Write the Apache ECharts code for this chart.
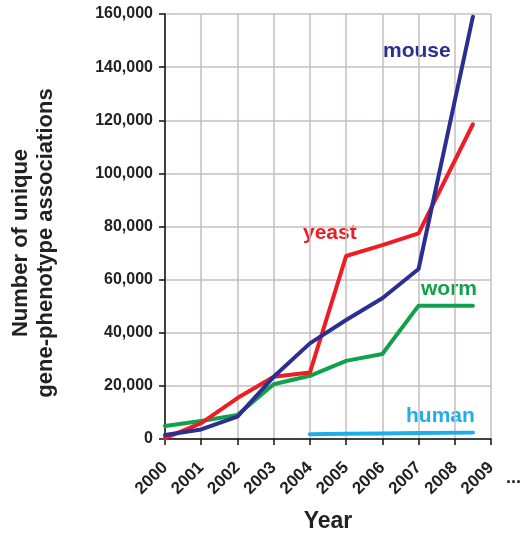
<!DOCTYPE html>
<html>
<head>
<meta charset="utf-8">
<script src="https://cdn.jsdelivr.net/npm/echarts@6/dist/echarts.min.js"></script>
<style>
  html, body { margin: 0; padding: 0; background: #fff; }
  #chart { width: 525px; height: 535px; }
</style>
</head>
<body>
<div id="chart"></div>
<script>
// years on the x axis; last points sit mid-2008
const years = [2000, 2001, 2002, 2003, 2004, 2005, 2006, 2007, 2008.5];
const mouse = [1500, 3600, 8400, 23400, 36000, 44800, 53000, 64000, 159000];
const yeast = [300, 6000, 15400, 23400, 25000, 68900, 73000, 77400, 118500];
const worm = [4900, 6800, 9000, 20600, 23800, 29400, 32000, 50200, 50200];
const humanYears = [2004, 2005, 2006, 2007, 2008.5];
const human = [1800, 2000, 2100, 2300, 2400];
const yTitle = ['Number of unique', 'gene-phenotype associations'];

const font = 'Liberation Sans, Arial, sans-serif';
const pair = (xs, ys) => xs.map((x, i) => [x, ys[i]]);

const chart = echarts.init(document.getElementById('chart'));

const lineSeries = (name, xs, ys, color) => ({
  name,
  type: 'line',
  data: pair(xs, ys),
  showSymbol: false,
  lineStyle: { color, width: 4, cap: 'round', join: 'round' },
  itemStyle: { color },
  silent: true,
  animation: false
});

// series name written next to its line
const tag = (text, x, y, color) => ({
  type: 'text',
  x, y,
  style: { text, fill: color, font: 'bold 21px ' + font, align: 'left', verticalAlign: 'middle' }
});

// rotated y-axis title, one line each
const vtitle = (text, x) => ({
  type: 'text',
  x, y: 243,
  rotation: Math.PI / 2,
  style: { text, fill: '#222', font: 'bold 22px ' + font, align: 'center', verticalAlign: 'middle' }
});

chart.setOption({
  backgroundColor: '#fff',
  animation: false,
  grid: { left: 165, right: 34, top: 14, bottom: 96, outerBoundsMode: 'none', containLabel: false },
  xAxis: {
    type: 'value',
    min: 2000,
    max: 2009,
    interval: 1,
    name: 'Year',
    nameLocation: 'middle',
    nameGap: 71,
    nameTextStyle: { fontFamily: font, fontWeight: 'bold', fontSize: 23, color: '#222' },
    axisLine: { lineStyle: { color: '#111', width: 1.5 } },
    axisTick: { show: true, length: 6, lineStyle: { color: '#111', width: 1.5 } },
    axisLabel: {
      rotate: 45,
      margin: 26,
      fontFamily: font,
      fontWeight: 'bold',
      fontSize: 17,
      color: '#222',
      formatter: v => String(v)
    },
    splitLine: { show: true, lineStyle: { color: '#c6bebe', width: 1.5 } }
  },
  yAxis: {
    type: 'value',
    min: 0,
    max: 160000,
    interval: 20000,
    axisLine: { show: true, lineStyle: { color: '#111', width: 1.5 } },
    axisTick: { show: true, length: 6, lineStyle: { color: '#111', width: 1.5 } },
    axisLabel: {
      margin: 12,
      fontFamily: font,
      fontWeight: 'bold',
      fontSize: 16,
      color: '#222',
      formatter: v => v.toLocaleString('en-US')
    },
    splitLine: { show: true, lineStyle: { color: '#c6bebe', width: 1.5 } }
  },
  series: [
    lineSeries('worm', years, worm, '#12a14b'),
    lineSeries('human', humanYears, human, '#1eaeea'),
    lineSeries('yeast', years, yeast, '#ee1d24'),
    lineSeries('mouse', years, mouse, '#2b2f91')
  ],
  graphic: [
    vtitle(yTitle[0], 21),
    vtitle(yTitle[1], 46),
    tag('mouse', 383, 51, '#2b2f91'),
    tag('yeast', 303, 233, '#ee1d24'),
    tag('worm', 421, 289, '#12a14b'),
    tag('human', 406, 416, '#1eaeea'),
    { type: 'text', x: 506, y: 487, style: { text: '...', fill: '#222', font: 'bold 18px ' + font, verticalAlign: 'bottom' } }
  ]
});
</script>
</body>
</html>
